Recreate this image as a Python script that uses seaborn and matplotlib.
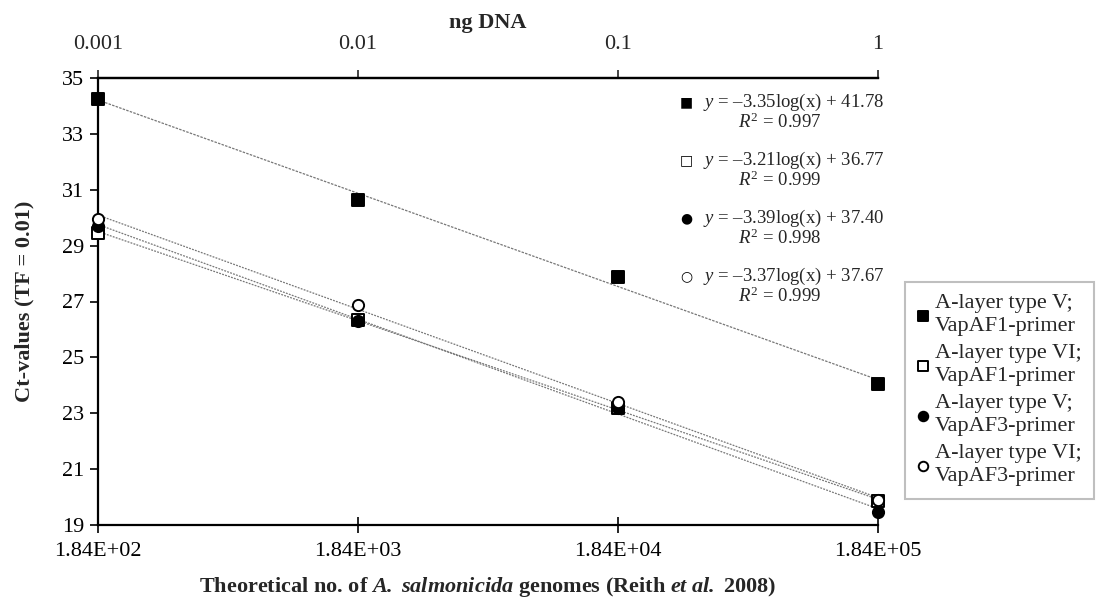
import numpy as np
import pandas as pd
import matplotlib
matplotlib.use("Agg")
import matplotlib.pyplot as plt
import seaborn as sns

# ---------------- data ----------------
genomes = [184, 1840, 18400, 184000]
genome_labels = ["1.84E+02", "1.84E+03", "1.84E+04", "1.84E+05"]
ng_dna = [0.001, 0.01, 0.1, 1]
ng_labels = ["0.001", "0.01", "0.1", "1"]

ct_v_af1 = [34.25, 30.65, 27.87, 24.05]
ct_vi_af1 = [29.45, 26.35, 23.20, 19.85]
ct_v_af3 = [29.72, 26.30, 23.20, 19.45]
ct_vi_af3 = [29.97, 26.87, 23.42, 19.88]

series_labels = ["A-layer type V;\nVapAF1-primer",
                 "A-layer type VI;\nVapAF1-primer",
                 "A-layer type V;\nVapAF3-primer",
                 "A-layer type VI;\nVapAF3-primer"]
eq_texts = ["–3.35log(x) + 41.78", "–3.21log(x) + 36.77",
            "–3.39log(x) + 37.40", "–3.37log(x) + 37.67"]
r2_texts = ["0.997", "0.999", "0.998", "0.999"]
eq_symbols = ["■", "□", "●", "○"]

# ---------------- style ----------------
sns.set_theme(style="white")
plt.rcParams["font.family"] = ["Liberation Serif", "DejaVu Sans"]
plt.rcParams["mathtext.fontset"] = "custom"
plt.rcParams["mathtext.rm"] = "Liberation Serif"
plt.rcParams["mathtext.it"] = "Liberation Serif:italic"
plt.rcParams["mathtext.bf"] = "Liberation Serif:bold"
plt.rcParams["mathtext.bfit"] = "Liberation Serif:italic:bold"

W, H = 1106, 598
fig = plt.figure(figsize=(W / 100, H / 100), dpi=100)
ax = fig.add_axes([98 / W, 1 - 525 / H, (878 - 98) / W, (525 - 78) / H])

series = [ct_v_af1, ct_vi_af1, ct_v_af3, ct_vi_af3]
markers = ["s", "s", "o", "o"]
faces = ["black", "white", "black", "white"]
line_styles = [(0, (2, 1)), (0, (1.5, 1)), (0, (1.5, 1)), (0, (1.5, 1))]

for vals, lab, mk, fc, ls in zip(series, series_labels, markers, faces, line_styles):
    df = pd.DataFrame({"genomes": genomes, "ct": vals})
    sns.regplot(data=df, x="genomes", y="ct", logx=True, ci=None, scatter=False,
                ax=ax, line_kws=dict(color="#777777", lw=0.9, ls=ls))

for vals, lab, mk, fc in zip(series, series_labels, markers, faces):
    df = pd.DataFrame({"genomes": genomes, "ct": vals})
    sns.scatterplot(data=df, x="genomes", y="ct", marker=mk, color=fc,
                    edgecolor="black", linewidth=1.4, s=65, ax=ax,
                    label=lab, clip_on=False, zorder=5)

ax.set_xscale("log")
ax.set_xlim(genomes[0], genomes[-1])
ax.set_ylim(19, 35)
ax.set_xticks(genomes)
ax.set_xticklabels(genome_labels)
ax.xaxis.set_minor_locator(matplotlib.ticker.NullLocator())
ax.set_yticks(np.arange(19, 36, 2))
ax.tick_params(axis="x", direction="inout", length=12, width=1.2, labelsize=16, pad=6,
               bottom=True, colors="black")
ax.tick_params(axis="y", direction="out", length=6, width=1.2, labelsize=16, pad=4,
               left=True, colors="black")
for s in ["left", "bottom", "top"]:
    ax.spines[s].set_visible(True)
    ax.spines[s].set_color("black")
    ax.spines[s].set_linewidth(1.6)
ax.spines["right"].set_visible(False)

ax.set_xlabel(r"Theoretical no. of $\mathbfit{A.}$ $\mathbfit{salmonicida}$ genomes (Reith $\mathbfit{et}$ $\mathbfit{al.}$ 2008)",
              fontsize=16, fontweight="bold", labelpad=10)
ax.set_ylabel("Ct-values (TF = 0.01)", fontsize=16, fontweight="bold", labelpad=20)

# top axis
ax2 = ax.twiny()
ax2.set_xscale("log")
ax2.set_xlim(ng_dna[0], ng_dna[-1])
ax2.set_xticks(ng_dna)
ax2.set_xticklabels(ng_labels)
ax2.xaxis.set_minor_locator(matplotlib.ticker.NullLocator())
ax2.tick_params(axis="x", direction="out", length=6, width=1.2, labelsize=16, pad=11, top=True)
for s in ["left", "bottom", "right"]:
    ax2.spines[s].set_visible(False)
ax2.spines["top"].set_color("black")
ax2.spines["top"].set_linewidth(1.6)
ax2.set_xlabel("ng DNA", fontsize=16, fontweight="bold", labelpad=5)

# equations
y_centers = [102, 160, 218, 276]
for sym, eq, r2, yc in zip(eq_symbols, eq_texts, r2_texts, y_centers):
    fig.text(680 / W, 1 - yc / H, sym, fontsize=10, family="DejaVu Sans",
             va="center", ha="left", color="black")
    fig.text(703 / W, 1 - yc / H, r"$\mathit{y}$ = " + eq, fontsize=13.5,
             va="center", ha="left")
    fig.text(738 / W, 1 - (yc + 20) / H, r"$\mathit{R}^2$ = " + r2, fontsize=13.5,
             va="center", ha="left")

# legend
handles, labels = ax.get_legend_handles_labels()
leg = ax.legend(handles, labels, loc="upper left",
                bbox_to_anchor=(905 / W, 1 - 282 / H), bbox_transform=fig.transFigure,
                fontsize=16, frameon=True, fancybox=False, shadow=False,
                handlelength=0.5, handletextpad=0.3, labelspacing=0.35,
                borderpad=0.55, borderaxespad=0, markerscale=0.85)
leg.get_frame().set_edgecolor("#b0b0b0")
leg.get_frame().set_linewidth(1.5)
for t in leg.get_texts():
    t.set_linespacing(1.3)

fig.savefig("out.png", dpi=100)
